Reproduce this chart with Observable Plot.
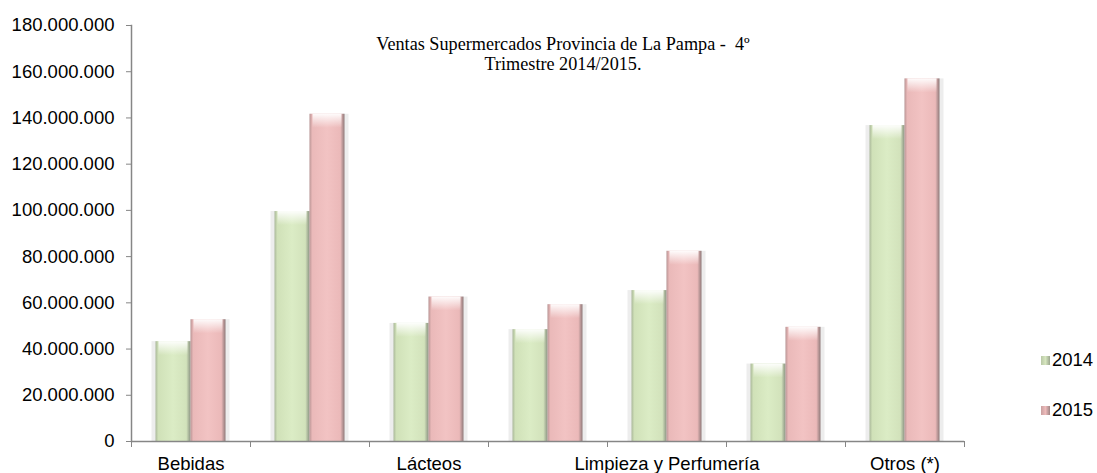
<!DOCTYPE html>
<html>
<head>
<meta charset="utf-8">
<script src="https://cdn.jsdelivr.net/npm/d3@7"></script>
<script src="https://cdn.jsdelivr.net/npm/@observablehq/plot@0.6"></script>
<style>
  html, body { margin: 0; padding: 0; background: #fff; }
  #wrap { position: relative; width: 1097px; height: 473px; font-family: "Liberation Sans", Arial, sans-serif; }
  #title { position: absolute; left: 333px; width: 460px; top: 34px; text-align: center;
           font-family: "Liberation Serif", "Times New Roman", serif; font-size: 18.2px; line-height: 20px; color: #000; }
  .leg { position: absolute; left: 1041px; font-size: 18.5px; color: #000; display: flex; align-items: center; }
  .sw { width: 9px; height: 9px; margin-right: 2px; }
</style>
</head>
<body>
<div id="wrap">
  <div id="chart"></div>
  <div id="title">Ventas Supermercados Provincia de La Pampa -&nbsp; 4º<br>Trimestre 2014/2015.</div>
  <div class="leg" style="top:349px"><div class="sw" style="background:linear-gradient(90deg,#b9c8a6,#d6e6bf,#9aa58e)"></div>2014</div>
  <div class="leg" style="top:399px"><div class="sw" style="background:linear-gradient(90deg,#c9a0a0,#eebbbb,#9e8585)"></div>2015</div>
</div>
<script>
// ---- data ----
const categories = ["Bebidas", "Almacén", "Lácteos", "Carnes", "Limpieza y Perfumería", "Verdulería", "Otros (*)"];
const categoryLabels = ["Bebidas", "", "Lácteos", "", "Limpieza y Perfumería", "", "Otros (*)"];
const years = ["2014", "2015"];
const ventas2014 = [43200000, 99500000, 51100000, 48400000, 65300000, 33500000, 136700000];
const ventas2015 = [52700000, 141600000, 62500000, 59200000, 82300000, 49400000, 156900000];
const yTicks = [0, 20000000, 40000000, 60000000, 80000000, 100000000, 120000000, 140000000, 160000000, 180000000];

const data = [];
categories.forEach((c, i) => {
  data.push({category: c, year: years[0], value: ventas2014[i]});
  data.push({category: c, year: years[1], value: ventas2015[i]});
});

// ---- layout ----
const W = 1097, H = 473, mL = 131, mR = 133, mT = 25, mB = 32;
const bw = (W - mL - mR) / categories.length;
const barW = 35;
const axisGray = "#868686";
const fmt = d3.formatLocale({decimal: ",", thousands: ".", grouping: [3], currency: ["$", ""]}).format(",d");

const d14 = data.filter(d => d.year === years[0]);
const d15 = data.filter(d => d.year === years[1]);

const plot = Plot.plot({
  width: W, height: H,
  marginLeft: mL, marginRight: mR, marginTop: mT, marginBottom: mB,
  style: {fontFamily: "Liberation Sans, Arial, sans-serif", fontSize: "18.5px", color: "#000", background: "transparent"},
  x: {domain: categories, padding: 0, axis: null, label: null},
  y: {domain: [0, 180000000], axis: null, label: null},
  marks: [
    // halo/shadow
    Plot.barY(d14, {x: "category", y: "value", fill: "#ededed", insetLeft: bw/2 - barW - 4, insetRight: bw/2}),
    Plot.barY(d15, {x: "category", y: "value", fill: "#ededed", insetLeft: bw/2, insetRight: bw/2 - barW - 4}),
    // bars
    Plot.barY(d14, {x: "category", y: "value", fill: "url(#g2014)", insetLeft: bw/2 - barW, insetRight: bw/2}),
    Plot.barY(d15, {x: "category", y: "value", fill: "url(#g2015)", insetLeft: bw/2, insetRight: bw/2 - barW}),
    // top highlight
    Plot.barY(d14, {x: "category", y1: "value", y2: "value", fill: "url(#gtop)", insetLeft: bw/2 - barW + 3, insetRight: bw/2 + 3, insetBottom: -14}),
    Plot.barY(d15, {x: "category", y1: "value", y2: "value", fill: "url(#gtop)", insetLeft: bw/2 + 3, insetRight: bw/2 - barW + 3, insetBottom: -14}),
    // y axis
    Plot.axisY({ticks: yTicks, tickFormat: fmt, tickSize: 5, tickPadding: 12, stroke: axisGray, fontSize: 18.5, label: null}),
    Plot.frame({anchor: "left", stroke: axisGray, strokeWidth: 1.5}),
    // x axis
    Plot.ruleY([0], {stroke: axisGray, strokeWidth: 1.5}),
    Plot.axisX({ticks: categories, tickFormat: () => "", tickSize: 6, dx: -bw/2, stroke: axisGray, label: null}),
    Plot.axisX({ticks: [categories[categories.length - 1]], tickFormat: () => "", tickSize: 6, dx: bw/2, stroke: axisGray, label: null}),
    Plot.axisX({ticks: categories, tickSize: 0, tickPadding: 15, fontSize: 18.5, label: null,
                tickFormat: d => categoryLabels[categories.indexOf(d)]})
  ]
});

// gradients
const svg = d3.select(plot);
const defs = svg.insert("defs", ":first-child");
function hgrad(id, stops) {
  const g = defs.append("linearGradient").attr("id", id).attr("x1", 0).attr("x2", 1).attr("y1", 0).attr("y2", 0);
  stops.forEach(([o, c]) => g.append("stop").attr("offset", o).attr("stop-color", c));
}
hgrad("g2014", [["0", "#aab89a"], ["0.08", "#d0e1b8"], ["0.5", "#dbecc5"], ["0.88", "#d2e2bb"], ["1", "#8c9483"]]);
hgrad("g2015", [["0", "#bb9696"], ["0.08", "#eab9b9"], ["0.5", "#f2c3c3"], ["0.88", "#ebb9b9"], ["1", "#8f7a7a"]]);
const gt = defs.append("linearGradient").attr("id", "gtop").attr("x1", 0).attr("x2", 0).attr("y1", 0).attr("y2", 1);
gt.append("stop").attr("offset", "0").attr("stop-color", "#ffffff").attr("stop-opacity", 0.95);
gt.append("stop").attr("offset", "1").attr("stop-color", "#ffffff").attr("stop-opacity", 0);

document.getElementById("chart").appendChild(plot);
</script>
</body>
</html>
